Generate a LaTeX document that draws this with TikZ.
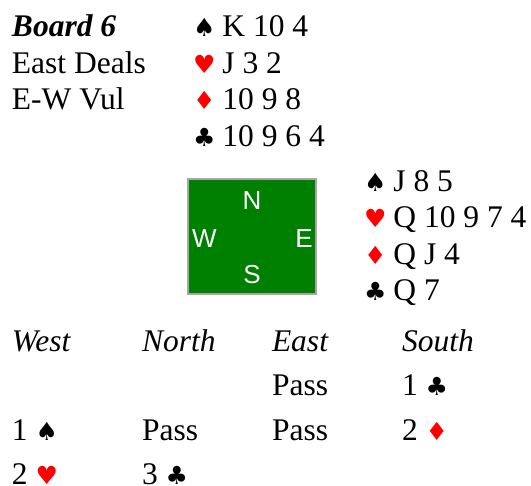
\documentclass[tikz,border=0pt]{standalone}
\usepackage{fontspec}
\setmainfont{Liberation Serif}
\setsansfont{Liberation Sans}
\newfontfamily\suitfont{DejaVu Sans}
\usetikzlibrary{positioning}

\newcommand{\suitsize}{\fontsize{25}{36}\selectfont}
\newcommand{\sSpade}{{\suitfont\suitsize\char"2660}}
\newcommand{\sHeart}{{\suitfont\suitsize\color{red}\char"2665}}
\newcommand{\sDiam}{{\suitfont\suitsize\color{red}\char"2666}}
\newcommand{\sClub}{{\suitfont\suitsize\char"2663}}
\newcommand{\gap}{\hspace{7pt}}

\begin{document}
\begin{tikzpicture}[
    x=1pt, y=-1pt,
    font=\fontsize{31.5}{36}\selectfont,
    txt/.style={anchor=base west, inner sep=0pt, outer sep=0pt},
    head/.style={txt, font=\fontsize{31.5}{36}\selectfont\itshape},
    felt/.style={rectangle, draw=black!35, line width=2pt, fill=green!50!black, minimum width=128pt, minimum height=115pt},
    compass/.style={inner sep=0pt, text=white, font=\sffamily\fontsize{26}{26}\selectfont}
]
\useasboundingbox (0,0) rectangle (531,486);

% ====================
%     Board info
% ====================
\node[txt, font=\fontsize{31.5}{36}\selectfont\bfseries\itshape] (board) at (12,37) {Board 6};
\node[txt] (dealer) at (12,74) {East Deals};
\node[txt] (vul) at (12,110) {E-W Vul};

% ====================
%     North hand
% ====================
\node[txt] (n_s) at (193,37) {\sSpade\gap K 10 4};
\node[txt] (n_h) at (193,74) {\sHeart\gap J 3 2};
\node[txt] (n_d) at (193,110) {\sDiam\gap 10 9 8};
\node[txt] (n_c) at (193,147) {\sClub\gap 10 9 6 4};

% ====================
%     Table
% ====================
\node[felt] (table) at (252,236.5) {};
\node[compass, anchor=base] (north) at (252,210) {N};
\node[compass, anchor=base west] (west) at (192,248) {W};
\node[compass, anchor=base east] (east) at (313,248) {E};
\node[compass, anchor=base] (south) at (252,284) {S};

% ====================
%     East hand
% ====================
\node[txt] (e_s) at (364,192) {\sSpade\gap J 8 5};
\node[txt] (e_h) at (364,228) {\sHeart\gap Q 10 9 7 4};
\node[txt] (e_d) at (364,265) {\sDiam\gap Q J 4};
\node[txt] (e_c) at (364,301) {\sClub\gap Q 7};

% ====================
%     Bidding
% ====================
\node[head] (h_w) at (12,352) {West};
\node[head] (h_n) at (142,352) {North};
\node[head] (h_e) at (272,352) {East};
\node[head] (h_s) at (402,352) {South};

\node[txt] (b_e1) at (272,396) {Pass};
\node[txt] (b_s1) at (402,396) {1 \sClub};
\node[txt] (b_w2) at (12,441) {1 \sSpade};
\node[txt] (b_n2) at (142,441) {Pass};
\node[txt] (b_e2) at (272,441) {Pass};
\node[txt] (b_s2) at (402,441) {2 \sDiam};
\node[txt] (b_w3) at (12,485) {2 \sHeart};
\node[txt] (b_n3) at (142,485) {3 \sClub};

\end{tikzpicture}
\end{document}
